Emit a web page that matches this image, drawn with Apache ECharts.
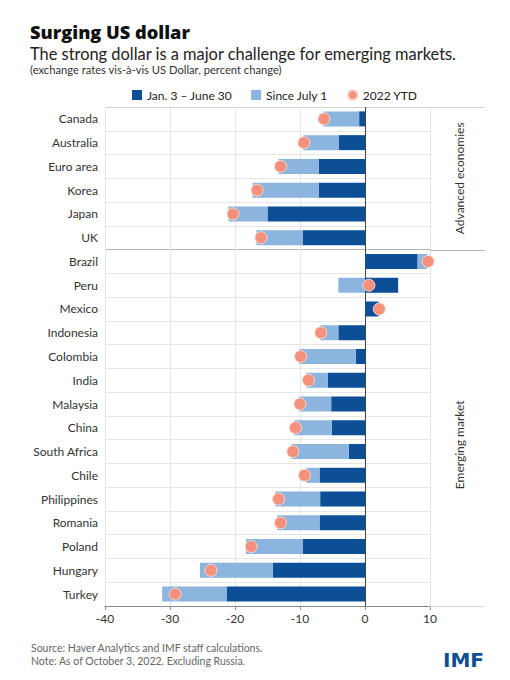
<!DOCTYPE html>
<html>
<head>
<meta charset="utf-8">
<script src="https://cdn.jsdelivr.net/npm/echarts@6/dist/echarts.min.js"></script>
<style>
html,body{margin:0;padding:0;background:#fff;}
#chart{width:510px;height:680px;}
</style>
</head>
<body>
<div id="chart"></div>
<script>
const categories = ['Canada','Australia','Euro area','Korea','Japan','UK','Brazil','Peru','Mexico','Indonesia','Colombia','India','Malaysia','China','South Africa','Chile','Philippines','Romania','Poland','Hungary','Turkey'];
const janToJune = [-0.9,-4.0,-7.1,-7.1,-15.0,-9.6,8.1,5.1,2.0,-4.1,-1.4,-5.7,-5.2,-5.1,-2.5,-7.0,-6.9,-7.0,-9.6,-14.2,-21.3];
const sinceJuly = [-5.5,-5.5,-6.2,-10.2,-6.0,-7.1,1.5,-4.1,0.3,-2.8,-8.7,-3.3,-4.9,-5.8,-8.8,-2.0,-6.9,-6.5,-8.7,-11.2,-9.9];
const ytd2022 = [-6.3,-9.4,-13.0,-16.6,-20.3,-16.0,9.7,0.6,2.2,-6.8,-9.9,-8.7,-10.0,-10.7,-11.1,-9.3,-13.3,-13.0,-17.5,-23.7,-29.2];
const xTicks = [-40,-30,-20,-10,0,10];
const groups = [
  {name:'Advanced economies', first:'Canada', last:'UK'},
  {name:'Emerging market', first:'Brazil', last:'Turkey'}
];

const DARK = '#0d4f97', LIGHT = '#8bb4de', DOT = '#f4917d';
const FONT = 'Lato, "Open Sans", sans-serif';
const chart = echarts.init(document.getElementById('chart'), null, {renderer:'svg'});

const gridTop = 107, gridBottom = 74, gridLeft = 105, gridRight = 80;
const ySplitColors = categories.concat(['end']).map((c, i) => i === 6 ? '#b5b5b5' : '#e6e6e6');
ySplitColors[0] = '#d0d0d0';

chart.setOption({
  backgroundColor: '#fff',
  textStyle: {fontFamily: FONT},
  title: [
    {text: 'Surging US dollar', left: 25, top: 18,
     textStyle: {fontFamily: '"Open Sans", sans-serif', fontSize: 18.2, fontWeight: 800, color: '#111'}},
    {text: 'The strong dollar is a major challenge for emerging markets.', left: 25, top: 40,
     textStyle: {fontFamily: FONT, fontSize: 16.4, fontWeight: 'normal', color: '#222'}},
    {text: '(exchange rates vis-à-vis US Dollar, percent change)', left: 25, top: 59,
     textStyle: {fontFamily: FONT, fontSize: 11.2, fontWeight: 'normal', color: '#333'}},
    {text: 'Source: Haver Analytics and IMF staff calculations.\nNote: As of October 3, 2022. Excluding Russia.', left: 26, top: 636,
     textStyle: {fontFamily: FONT, fontSize: 10.5, fontWeight: 'normal', color: '#666', lineHeight: 13}},
    {text: 'IMF', right: 21, top: 645,
     textStyle: {fontFamily: '"DejaVu Sans", sans-serif', fontSize: 20, fontWeight: 'bold', color: '#0d4f97'}}
  ],
  legend: {
    top: 84, left: 127, itemWidth: 10, itemHeight: 10, itemGap: 19,
    textStyle: {fontFamily: FONT, fontSize: 12, color: '#222'},
    data: [
      {name: 'Jan. 3 – June 30', icon: 'rect'},
      {name: 'Since July 1', icon: 'rect'},
      {name: '2022 YTD', icon: 'circle'}
    ]
  },
  grid: {top: gridTop, bottom: gridBottom, left: gridLeft, right: gridRight, containLabel: false},
  xAxis: {
    type: 'value', min: xTicks[0], max: xTicks[xTicks.length - 1], interval: 10,
    axisLine: {show: true, lineStyle: {color: '#8a8a8a', width: 1}},
    axisTick: {show: true, length: 4, lineStyle: {color: '#8a8a8a'}},
    axisLabel: {color: '#333', fontSize: 12, fontFamily: FONT, margin: 6},
    splitLine: {show: true, lineStyle: {color: xTicks.map(v => v === 0 ? '#444' : '#e6e6e6'), width: 1}}
  },
  yAxis: {
    type: 'category', data: categories, inverse: true,
    axisLine: {show: false, onZero: false},
    axisTick: {show: false},
    axisLabel: {color: '#333', fontSize: 12, fontFamily: FONT, margin: 7, interval: 0},
    splitLine: {show: true, interval: 0, lineStyle: {color: ySplitColors, width: 1}}
  },
  series: [
    {name: 'Jan. 3 – June 30', type: 'bar', stack: 'fx', data: janToJune, barWidth: 15,
     itemStyle: {color: DARK}, z: 2},
    {name: 'Since July 1', type: 'bar', stack: 'fx', data: sinceJuly, barWidth: 15,
     itemStyle: {color: LIGHT}, z: 2},
    {name: '2022 YTD', type: 'scatter', data: ytd2022, symbolSize: 12,
     itemStyle: {color: DOT, borderColor: '#fbd7cf', borderWidth: 1, opacity: 1}, z: 5}
  ]
});

function addDecor() {
  const x10 = chart.convertToPixel({xAxisIndex: 0}, xTicks[xTicks.length - 1]);
  const extRight = 485;
  const band = (680 - gridTop - gridBottom) / categories.length;
  const els = [];
  const lineAt = (y, x1, color) => els.push({type: 'line', shape: {x1: x1, y1: y, x2: extRight, y2: y},
    style: {stroke: color, lineWidth: 1}, z: 1, silent: true});
  lineAt(gridTop + 0.5, x10, '#d0d0d0');
  lineAt(680 - gridBottom + 0.5, x10, '#d8d8d8');
  groups.forEach((g, gi) => {
    const yFirst = chart.convertToPixel({yAxisIndex: 0}, g.first) - band / 2;
    const yLast = chart.convertToPixel({yAxisIndex: 0}, g.last) + band / 2;
    if (gi > 0) lineAt(Math.round(yFirst) + 0.5, x10, '#b5b5b5');
    const cy = gi === 0 ? (yFirst + yLast) / 2 : (yFirst + yLast) / 2 + 17;
    els.push({type: 'text', x: (x10 + extRight) / 2 + 2, y: cy, rotation: Math.PI / 2,
      style: {text: g.name, fill: '#333', fontSize: 12, fontFamily: FONT, align: 'center', verticalAlign: 'middle'},
      z: 3, silent: true});
  });
  chart.setOption({graphic: els});
}
addDecor();
</script>
</body>
</html>
